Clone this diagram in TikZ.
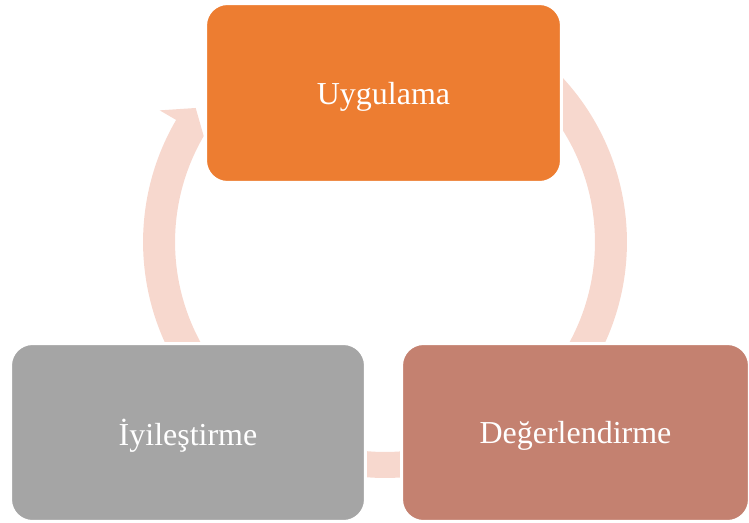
\documentclass[tikz,border=0pt]{standalone}
\usepackage{fontspec}
\setmainfont{Liberation Serif}
\usetikzlibrary{calc}

\definecolor{stageorange}{HTML}{ED7D31}
\definecolor{stagegray}{HTML}{A5A5A5}
\definecolor{stagebrown}{HTML}{C48170}
\definecolor{cyclepink}{HTML}{F7D8CE}

\tikzset{
	stage/.style={rectangle, rounded corners=0.44cm, draw=white, line width=0.06cm,
		text=white, font=\fontsize{18.2}{21}\selectfont, inner sep=0pt, text depth=0pt},
	cycline/.style={draw=cyclepink, line width=0.64cm, line cap=butt},
	cycarrow/.style={fill=cyclepink}
}

\begin{document}
\begin{tikzpicture}[x=0.02cm, y=0.02cm]

	\useasboundingbox (0,0) rectangle (749,522);

	% ---- centre of the cycle

	\coordinate (cyc) at (385,280);

	% ---- arrows

	\fill[cycarrow] ($(cyc)+(215:4.84cm)$) arc[start angle=215, end angle=149.7, radius=4.84cm]
		-- ($(cyc)+(149.7:5.22cm)$) -- ($(cyc)+(144.7:4.64cm)$) -- ($(cyc)+(149.7:4.2cm)$)
		arc[start angle=149.7, end angle=215, radius=4.2cm] -- cycle;
	\draw[cycline] ($(cyc)+(43.5:4.52cm)$) arc[start angle=43.5, end angle=-35, radius=4.52cm];
	\draw[cycline, line width=0.52cm] ($(cyc)+(-80:4.46cm)$) arc[start angle=-80, end angle=-100, radius=4.46cm];

	% ---- stages

	\node[stage, fill=stageorange, minimum width=7.12cm, minimum height=3.58cm] (uyg) at (383.5,429) {Uygulama};
	\node[stage, fill=stagebrown, minimum width=6.96cm, minimum height=3.56cm] (deg) at (575.5,89.5) {Değerlendirme};
	\node[stage, fill=stagegray, minimum width=7.1cm, minimum height=3.56cm] (iyi) at (188,89.5) {İyileştirme};

\end{tikzpicture}
\end{document}
